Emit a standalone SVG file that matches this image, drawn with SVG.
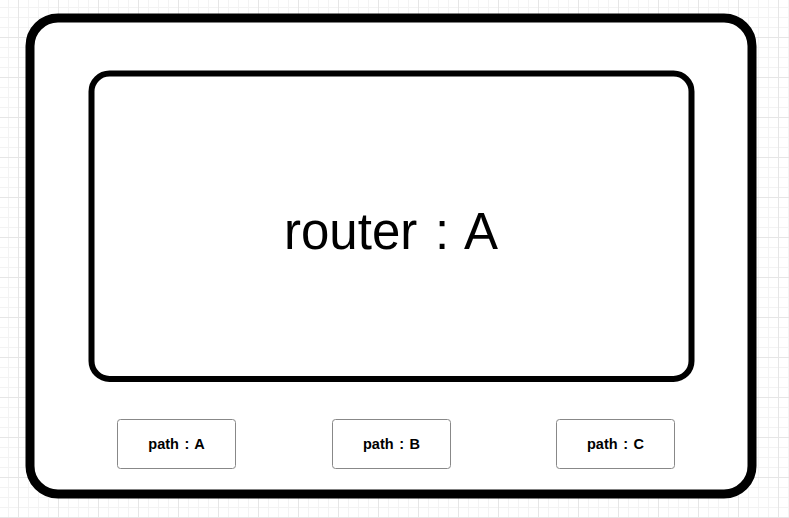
<svg xmlns="http://www.w3.org/2000/svg" width="789" height="518" viewBox="0 0 789 518">
  <defs>
    <pattern id="grid" patternUnits="userSpaceOnUse" x="18" y="37" width="40" height="40">
      <path d="M10.5 0V40M20.5 0V40M30.5 0V40M0 10.5H40M0 20.5H40M0 30.5H40" fill="none" stroke="#f3f3f3" stroke-width="1"/>
      <path d="M0.5 0V40M0 0.5H40" fill="none" stroke="#e6e6e6" stroke-width="1"/>
    </pattern>
  </defs>
  <style>
    .outer { fill: #ffffff; stroke: #000000; stroke-width: 9; }
    .inner { fill: #ffffff; stroke: #000000; stroke-width: 6; }
    .path-box { fill: #ffffff; stroke: #888888; stroke-width: 1; }
    .big { font-family: "Liberation Sans", Arial, "Noto Sans CJK SC", sans-serif; font-size: 51px; fill: #000000; text-anchor: middle; word-spacing: 3.5px; }
    .small { font-family: "Liberation Sans", Arial, "Noto Sans CJK SC", sans-serif; font-size: 14.5px; font-weight: bold; fill: #000000; text-anchor: middle; word-spacing: 1.5px; }
  </style>
  <rect x="0" y="0" width="789" height="518" fill="#ffffff"/>
  <rect x="0" y="0" width="789" height="518" fill="url(#grid)"/>
  <g id="device">
    <rect class="outer" x="30" y="18" width="722" height="476" rx="28" ry="28"/>
  </g>
  <g id="router-a">
    <rect class="inner" x="91.5" y="73.5" width="600" height="305.5" rx="18" ry="18"/>
    <text class="big" x="391" y="249">router : A</text>
  </g>
  <g id="path-a">
    <rect class="path-box" x="117.5" y="419.5" width="118" height="49" rx="3" ry="3"/>
    <text class="small" x="176.5" y="449">path : A</text>
  </g>
  <g id="path-b">
    <rect class="path-box" x="332.5" y="419.5" width="118" height="49" rx="3" ry="3"/>
    <text class="small" x="391.5" y="449">path : B</text>
  </g>
  <g id="path-c">
    <rect class="path-box" x="556.5" y="419.5" width="118" height="49" rx="3" ry="3"/>
    <text class="small" x="615.5" y="449">path : C</text>
  </g>
  <g id="connectors"></g>
</svg>
